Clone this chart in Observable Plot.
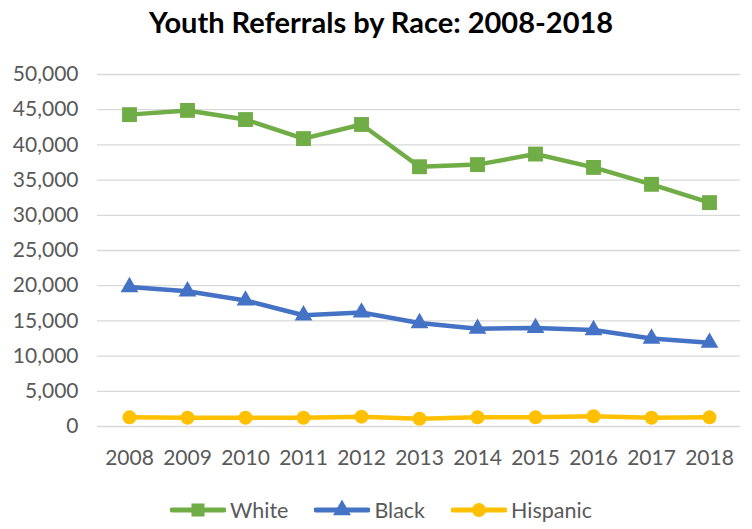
<!DOCTYPE html>
<html>
<head>
<meta charset="utf-8">
<script src="https://cdn.jsdelivr.net/npm/d3@7"></script>
<script src="https://cdn.jsdelivr.net/npm/@observablehq/plot@0.6"></script>
<style>
  body { margin: 0; background: #fff; font-family: Lato, "Open Sans", sans-serif; }
  #wrap { width: 752px; height: 529px; position: relative; }
  #title { height: 44px; line-height: 44px; text-align: center; font-weight: bold; font-size: 29px; color: #000; padding-left: 10px; box-sizing: border-box; }
  #legend { height: 49px; display: flex; justify-content: center; align-items: center; gap: 26px; font-size: 21.5px; color: #595959; padding-left: 10px; padding-top: 10px; box-sizing: border-box; }
  .item { display: flex; align-items: center; gap: 4px; }
</style>
</head>
<body>
<div id="wrap">
  <div id="title">Youth Referrals by Race: 2008-2018</div>
  <div id="chart"></div>
  <div id="legend"></div>
</div>
<script>
const years = ["2008","2009","2010","2011","2012","2013","2014","2015","2016","2017","2018"];
const white = [44300, 44900, 43600, 40900, 42900, 36900, 37200, 38700, 36800, 34400, 31800];
const black = [19800, 19200, 17900, 15800, 16200, 14700, 13900, 14000, 13700, 12500, 11900];
const hispanic = [1300, 1250, 1250, 1250, 1400, 1100, 1300, 1300, 1450, 1250, 1300];
const seriesNames = ["White", "Black", "Hispanic"];
const seriesColors = ["#70ad47", "#4472c4", "#ffc000"];
const seriesSymbols = ["square", "triangle", "circle"];
const yTicks = [0, 5000, 10000, 15000, 20000, 25000, 30000, 35000, 40000, 45000, 50000];

const seriesValues = [white, black, hispanic];
const seriesData = seriesNames.map((name, i) =>
  years.map((yr, j) => ({series: name, year: yr, value: seriesValues[i][j]})));
const markerR = [8.4, 6.6, 7];

const fmt = d3.format(",");
const chart = Plot.plot({
  width: 752,
  height: 436,
  marginLeft: 97,
  marginRight: 12,
  marginTop: 30,
  marginBottom: 54,
  style: {fontFamily: "Lato, 'Open Sans', sans-serif", fontSize: "21px", color: "#595959", background: "#fff"},
  x: {type: "point", domain: years, padding: 0.5, label: null},
  y: {domain: [0, 50000], ticks: yTicks, label: null},
  marks: [
    Plot.gridY(yTicks, {stroke: "#d9d9d9", strokeOpacity: 1, strokeWidth: 1.3}),
    Plot.axisY({ticks: yTicks, tickSize: 0, tickPadding: 19, tickFormat: fmt, fill: "#595959", fontSize: 21}),
    Plot.axisX({tickSize: 0, tickPadding: 24, fill: "#595959", fontSize: 21}),
    ...seriesData.map((d, i) => Plot.line(d, {x: "year", y: "value", stroke: seriesColors[i], strokeWidth: 4.5})),
    ...seriesData.map((d, i) => Plot.dot(d, {x: "year", y: "value", fill: seriesColors[i], symbol: seriesSymbols[i], r: markerR[i], stroke: "none"}))
  ]
});
document.getElementById("chart").appendChild(chart);

// Legend
const legend = d3.select("#legend");
seriesNames.forEach((name, i) => {
  const item = legend.append("div").attr("class", "item");
  const svg = item.append("svg").attr("width", 56).attr("height", 20);
  svg.append("line").attr("x1", 2).attr("x2", 54).attr("y1", 10).attr("y2", 10)
    .attr("stroke", seriesColors[i]).attr("stroke-width", 5).attr("stroke-linecap", "round");
  const sym = d3.symbol().type([d3.symbolSquare, d3.symbolTriangle, d3.symbolCircle][i]).size([170, 140, 150][i]);
  svg.append("path").attr("d", sym()).attr("transform", "translate(28,10)").attr("fill", seriesColors[i]);
  item.append("span").text(name);
});
</script>
</body>
</html>
